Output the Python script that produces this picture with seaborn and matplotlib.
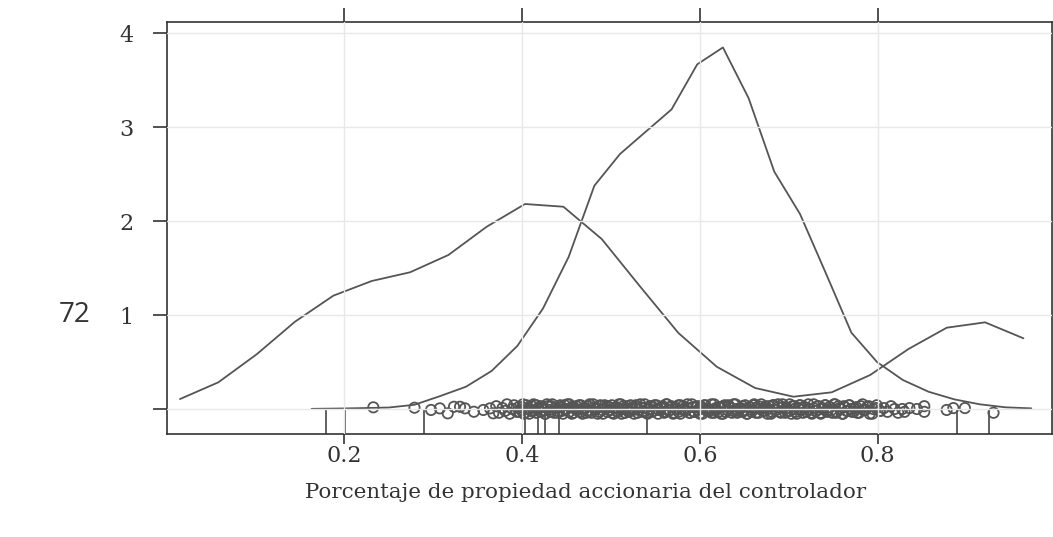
import numpy as np
import pandas as pd
import seaborn as sns
import matplotlib.pyplot as plt

# density curves (vertex by vertex)
dens_a_x = [0.0152, 0.0583, 0.1015, 0.1446, 0.1877, 0.2308, 0.2740, 0.3171, 0.3602, 0.4033, 0.4465, 0.4896,
            0.5327, 0.5758, 0.6190, 0.6621, 0.7052, 0.7483, 0.7915, 0.8346, 0.8777, 0.9208, 0.9639]
dens_a_y = [0.106, 0.284, 0.583, 0.930, 1.207, 1.363, 1.456, 1.640, 1.941, 2.183, 2.154, 1.810,
            1.305, 0.810, 0.450, 0.224, 0.131, 0.178, 0.362, 0.639, 0.866, 0.923, 0.753]

dens_b_x = [0.1633, 0.1922, 0.2211, 0.2500, 0.2789, 0.3079, 0.3368, 0.3657, 0.3946, 0.4235, 0.4524, 0.4813,
            0.5102, 0.5391, 0.5681, 0.5970, 0.6259, 0.6548, 0.6837, 0.7126, 0.7415, 0.7704, 0.7993, 0.8283,
            0.8572, 0.8861, 0.9150, 0.9439, 0.9728]
dens_b_y = [0.002, 0.005, 0.010, 0.016, 0.045, 0.138, 0.237, 0.405, 0.671, 1.070, 1.620, 2.378,
            2.716, 2.953, 3.190, 3.670, 3.850, 3.310, 2.527, 2.077, 1.450, 0.813, 0.500, 0.309,
            0.184, 0.103, 0.050, 0.018, 0.007]

# isolated observations (jittered around 0)
sparse_x = [0.2327, 0.2790, 0.2976, 0.3075, 0.3164, 0.3234, 0.3302, 0.3358, 0.3458, 0.3564, 0.3639, 0.3676,
            0.8276, 0.8302, 0.8357, 0.8441, 0.8524, 0.8524, 0.8776, 0.8851, 0.8981, 0.9303]
sparse_y = [0.018, 0.014, -0.010, 0.007, -0.046, 0.024, 0.024, 0.007, -0.029, -0.010, 0.007, -0.046,
            0.000, -0.030, 0.010, 0.000, 0.030, -0.030, -0.010, 0.010, 0.010, -0.040]

# the crowded band of observations, first group
band_x = [0.371, 0.374, 0.378, 0.381, 0.383, 0.386, 0.389, 0.391, 0.394, 0.396,
          0.399, 0.401, 0.403, 0.406, 0.408, 0.411, 0.413, 0.416, 0.418, 0.421,
          0.423, 0.426, 0.428, 0.431, 0.433, 0.436, 0.438, 0.441, 0.443, 0.446,
          0.448, 0.451, 0.453, 0.456, 0.458, 0.461, 0.463, 0.466, 0.468, 0.471,
          0.473, 0.476, 0.478, 0.481, 0.483, 0.486, 0.488, 0.491, 0.493, 0.496,
          0.498, 0.501, 0.503, 0.506, 0.508, 0.511, 0.513, 0.516, 0.518, 0.521,
          0.523, 0.526, 0.528, 0.531, 0.533, 0.536, 0.538, 0.541, 0.543, 0.546,
          0.548, 0.551, 0.553, 0.556, 0.558, 0.561, 0.563, 0.566, 0.568, 0.571,
          0.573, 0.576, 0.578, 0.581, 0.583, 0.586, 0.588, 0.591, 0.593, 0.596,
          0.598, 0.601, 0.603, 0.606, 0.608, 0.611, 0.613, 0.616, 0.618, 0.621,
          0.623, 0.626, 0.628, 0.631, 0.633, 0.636, 0.638, 0.641, 0.643, 0.646,
          0.648, 0.651, 0.653, 0.656, 0.658, 0.661, 0.663, 0.666, 0.668, 0.671,
          0.673, 0.676, 0.678, 0.681, 0.683, 0.686, 0.688, 0.691, 0.693, 0.696,
          0.698, 0.701, 0.703, 0.706, 0.708, 0.711, 0.713, 0.716, 0.718, 0.721,
          0.723, 0.726, 0.728, 0.731, 0.733, 0.736, 0.738, 0.741, 0.743, 0.746,
          0.748, 0.751, 0.753, 0.756, 0.758, 0.761, 0.763, 0.766, 0.768, 0.771,
          0.774, 0.777, 0.781, 0.784, 0.788, 0.791, 0.795, 0.799, 0.803, 0.807,
          0.811, 0.815, 0.819, 0.823]
band_y = [0.03, -0.04, 0.01, -0.02, 0.05, -0.05, 0.00, 0.04, -0.03, 0.02,
          -0.01, 0.05, -0.04, 0.01, -0.05, 0.03, -0.02, 0.04, 0.00, -0.03,
          0.02, -0.05, 0.05, -0.01, 0.03, -0.04, 0.01, -0.02, 0.04, -0.05,
          0.00, 0.05, -0.03, 0.02, -0.04, 0.03, -0.01, 0.04, -0.05, 0.01,
          -0.02, 0.05, -0.04, 0.02, 0.00, -0.03, 0.04, -0.05, 0.01, 0.03,
          -0.01, 0.04, -0.05, 0.02, -0.03, 0.05, 0.00, -0.04, 0.03, -0.02,
          0.01, -0.05, 0.04, -0.01, 0.02, -0.03, 0.05, -0.04, 0.00, 0.03,
          -0.02, 0.04, -0.05, 0.01, 0.03, -0.03, 0.05, -0.01, 0.02, -0.04,
          0.00, 0.04, -0.05, 0.03, -0.02, 0.01, -0.04, 0.05, -0.03, 0.02,
          -0.01, 0.03, -0.05, 0.04, 0.00, -0.02, 0.05, -0.04, 0.01, -0.03,
          0.02, -0.05, 0.04, -0.01, 0.03, -0.04, 0.05, 0.00, -0.02, 0.01,
          -0.03, 0.04, -0.05, 0.02, -0.01, 0.05, -0.04, 0.03, 0.00, -0.02,
          0.01, -0.05, 0.03, -0.03, 0.04, -0.01, 0.05, -0.04, 0.02, 0.00,
          -0.02, 0.05, -0.05, 0.03, -0.03, 0.01, 0.04, -0.04, 0.02, -0.01,
          0.00, -0.05, 0.05, -0.02, 0.03, -0.04, 0.01, 0.04, -0.03, 0.02,
          -0.01, 0.05, -0.04, 0.03, 0.00, -0.05, 0.02, -0.02, 0.04, -0.03,
          0.01, -0.04, 0.03, -0.01, 0.02, -0.05, 0.00, 0.04, -0.02, 0.01,
          -0.03, 0.03, 0.00, -0.04]

# the crowded band, second group
band2_x = [0.397, 0.400, 0.402, 0.405, 0.408, 0.410, 0.413, 0.416, 0.418, 0.421,
           0.424, 0.426, 0.429, 0.432, 0.434, 0.437, 0.440, 0.442, 0.445, 0.448,
           0.450, 0.453, 0.456, 0.458, 0.461, 0.464, 0.466, 0.469, 0.472, 0.474,
           0.477, 0.480, 0.482, 0.485, 0.488, 0.490, 0.493, 0.496, 0.498, 0.501,
           0.504, 0.506, 0.509, 0.512, 0.514, 0.517, 0.520, 0.522, 0.525, 0.528,
           0.530, 0.533, 0.536, 0.538, 0.541, 0.544, 0.546, 0.549, 0.552, 0.554,
           0.557, 0.560, 0.562, 0.565, 0.568, 0.570, 0.573, 0.576, 0.578, 0.581,
           0.584, 0.586, 0.589, 0.592, 0.594, 0.597, 0.600, 0.602, 0.605, 0.608,
           0.610, 0.613, 0.616, 0.618, 0.621, 0.624, 0.626, 0.629, 0.632, 0.634,
           0.637, 0.640, 0.642, 0.645, 0.648, 0.650, 0.653, 0.656, 0.658, 0.661,
           0.664, 0.666, 0.669, 0.672, 0.674, 0.677, 0.680, 0.682, 0.685, 0.688,
           0.690, 0.693, 0.696, 0.698, 0.701, 0.704, 0.706, 0.709, 0.712, 0.714,
           0.717, 0.720, 0.722, 0.725, 0.728, 0.730, 0.733, 0.736, 0.738, 0.741,
           0.744, 0.746, 0.749, 0.752, 0.754, 0.757, 0.760, 0.762, 0.765, 0.768,
           0.770, 0.773, 0.776, 0.779, 0.783, 0.786, 0.790, 0.794, 0.798, 0.802]
band2_y = [-0.03, 0.02, -0.05, 0.04, 0.00, -0.02, 0.05, -0.04, 0.01, 0.03,
           -0.01, -0.05, 0.03, -0.03, 0.05, 0.01, -0.04, 0.02, -0.02, 0.04,
           0.00, 0.05, -0.05, 0.02, -0.01, 0.04, -0.03, 0.01, -0.04, 0.03,
           -0.02, 0.05, 0.00, -0.05, 0.03, -0.01, 0.04, -0.03, 0.02, -0.04,
           0.01, -0.02, 0.05, -0.05, 0.03, 0.00, -0.03, 0.04, -0.01, 0.02,
           -0.04, 0.05, -0.02, 0.01, -0.05, 0.03, -0.03, 0.04, 0.00, -0.01,
           0.02, -0.04, 0.05, -0.02, 0.03, -0.05, 0.01, -0.03, 0.04, 0.00,
           -0.01, 0.05, -0.04, 0.02, -0.03, 0.03, -0.05, 0.01, 0.04, -0.02,
           0.00, -0.04, 0.05, -0.01, 0.02, -0.05, 0.03, -0.03, 0.04, 0.01,
           -0.02, 0.05, -0.04, 0.00, 0.03, -0.01, -0.05, 0.02, -0.03, 0.04,
           0.01, -0.04, 0.05, -0.02, 0.03, 0.00, -0.05, 0.04, -0.01, 0.02,
           -0.03, 0.05, -0.04, 0.01, -0.02, 0.03, 0.00, -0.05, 0.04, -0.01,
           0.02, -0.03, 0.05, -0.04, 0.01, -0.02, 0.03, -0.05, 0.00, 0.04,
           -0.01, 0.02, -0.04, 0.05, -0.03, 0.01, -0.05, 0.03, -0.02, 0.04,
           0.00, -0.03, 0.02, -0.04, 0.05, -0.01, 0.03, -0.05, 0.01, -0.02]

# marked observations drawn as drop lines under the axis
rug_x = [0.180, 0.2005, 0.290, 0.4033, 0.418, 0.4258, 0.4419, 0.540, 0.889, 0.925]

x_ticks = [0.2, 0.4, 0.6, 0.8]
x_labels = ['0.2', '0.4', '0.6', '0.8']
y_ticks = [0, 1, 2, 3, 4]
y_labels = ['', '1', '2', '3', '4']

sns.set_theme(style='white')
plt.rcParams['font.family'] = ['DejaVu Serif']

gray = '#555555'
fig = plt.figure(figsize=(10.53, 5.37), dpi=100)
ax = fig.add_axes([167 / 1053, 1 - 434 / 537, 884.5 / 1053, 412 / 537])

curves = pd.concat([
    pd.DataFrame({'x': dens_a_x, 'y': dens_a_y, 'grupo': 'a'}),
    pd.DataFrame({'x': dens_b_x, 'y': dens_b_y, 'grupo': 'b'}),
])
sns.lineplot(data=curves, x='x', y='y', hue='grupo', palette=[gray, gray],
             estimator=None, sort=False, legend=False, linewidth=1.3, ax=ax)

pts = pd.DataFrame({'x': sparse_x + band_x + band2_x, 'y': sparse_y + band_y + band2_y})
sns.scatterplot(data=pts, x='x', y='y', s=55, marker='o', facecolor='none',
                edgecolor=gray, linewidth=1.3, ax=ax, zorder=1.5)

ax.set_xlim(0.0006, 0.9955)
ax.set_ylim(-0.266, 4.121)
sns.rugplot(x=rug_x, height=0.266 / 4.387, color=gray, linewidth=1.3, ax=ax)

ax.grid(True, color='#e8e8e8', linewidth=1.0)
ax.set_axisbelow(False)

ax.set_xticks(x_ticks)
ax.set_xticklabels(x_labels)
ax.set_yticks(y_ticks)
ax.set_yticklabels(y_labels)
ax.tick_params(axis='x', top=True, bottom=True, direction='out', length=7, width=1.2,
               color='#333333', labelsize=16, labelcolor='#333333', pad=1)
ax.tick_params(axis='y', left=True, right=False, direction='out', length=10, width=1.2,
               color='#333333', labelsize=16, labelcolor='#333333', pad=14)
for t in ax.xaxis.get_major_ticks():
    t.tick2line.set_markersize(10)
for sp in ax.spines.values():
    sp.set_color('#333333')
    sp.set_linewidth(1.2)
ax.set_xlabel('')
ax.set_ylabel('')

fig.text(0.556, 1 - 492 / 537, 'Porcentaje de propiedad accionaria del controlador',
         ha='center', va='center', fontsize=15.4, color='#333333')
fig.text(75 / 1053, 1 - 315 / 537, '72', ha='center', va='center', fontsize=20,
         color='#333333', family=['Open Sans', 'DejaVu Sans'])

fig.savefig('out.png', dpi=100)
